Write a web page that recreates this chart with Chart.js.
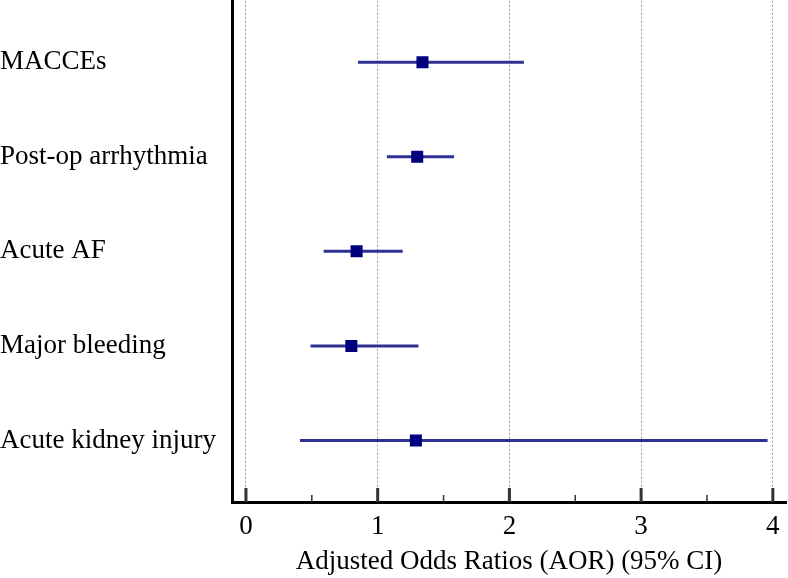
<!DOCTYPE html>
<html>
<head>
<meta charset="utf-8">
<script src="https://cdn.jsdelivr.net/npm/chart.js@4/dist/chart.umd.min.js"></script>
<style>
html,body{margin:0;padding:0;background:#fff;}
#wrap{width:788px;height:578px;}
</style>
</head>
<body>
<div id="wrap"><canvas id="forest"></canvas></div>
<script>
/* ---- data ---- */
const outcomes=["MACCEs","Post-op arrhythmia","Acute AF","Major bleeding","Acute kidney injury"];
const aor=[1.34,1.30,0.84,0.80,1.29];
const ciLow=[0.85,1.07,0.59,0.49,0.41];
const ciHigh=[2.11,1.58,1.19,1.31,3.96];
const xTicks=[0,1,2,3,4];
const xMinorTicks=[0.5,1.5,2.5,3.5];

const serif="'Liberation Serif','Times New Roman',serif";
const fontSize=27;
const lineCol="#2e3092";
const boxCol="#00007f";

/* one line dataset per CI */
const ciSets=outcomes.map((o,i)=>({
type:"line",
data:[{x:ciLow[i],y:i+1},{x:ciHigh[i],y:i+1}],
borderColor:lineCol,
borderWidth:3,
pointRadius:0,
order:2
}));

const pointSet={
type:"scatter",
data:aor.map((v,i)=>({x:v,y:i+1})),
pointStyle:"rect",
pointRadius:8.5,
backgroundColor:boxCol,
borderColor:boxCol,
borderWidth:0,
order:1
};

/* small inward tick marks on the x axis */
const innerTicks={
id:"innerTicks",
afterDraw(chart){
const ctx=chart.ctx, xs=chart.scales.x, b=chart.chartArea.bottom;
ctx.save();
ctx.strokeStyle="#333";
ctx.lineWidth=3;
xTicks.forEach(v=>{
const px=xs.getPixelForValue(v);
ctx.beginPath();ctx.moveTo(px,b);ctx.lineTo(px,b-14);ctx.stroke();
});
ctx.lineWidth=1.5;
xMinorTicks.forEach(v=>{
const px=xs.getPixelForValue(v);
ctx.beginPath();ctx.moveTo(px,b);ctx.lineTo(px,b-7);ctx.stroke();
});
ctx.restore();
}
};

new Chart(document.getElementById("forest"),{
data:{datasets:[pointSet,...ciSets]},
options:{
responsive:true,
maintainAspectRatio:false,
animation:false,
layout:{autoPadding:false,padding:{top:0,right:2,left:0,bottom:0}},
plugins:{legend:{display:false},tooltip:{enabled:false}},
scales:{
x:{
type:"linear",
min:-0.106,
max:4.1,
afterBuildTicks:s=>{s.ticks=xTicks.map(v=>({value:v}));},
afterFit:s=>{s.height=76;},
grid:{color:"#9a9a9a",lineWidth:1,drawTicks:true,tickLength:9,tickColor:"rgba(0,0,0,0)"},
border:{display:true,color:"#000",width:3,dash:[2,2]},
ticks:{color:"#000",font:{family:serif,size:fontSize},padding:0,maxRotation:0},
title:{display:true,text:"Adjusted Odds Ratios (AOR) (95% CI)",color:"#000",
font:{family:serif,size:fontSize},padding:{top:0,bottom:0}}
},
y:{
type:"linear",
reverse:true,
min:0.35,
max:5.65,
afterBuildTicks:s=>{s.ticks=outcomes.map((o,i)=>({value:i+1}));},
afterFit:s=>{s.width=232;},
grid:{display:false},
border:{display:true,color:"#000",width:3},
ticks:{color:"#000",font:{family:serif,size:fontSize,lineHeight:0.05},padding:0,crossAlign:"far",
callback:v=>outcomes[v-1]||""}
}
}
},
plugins:[innerTicks]
});
</script>
</body>
</html>
